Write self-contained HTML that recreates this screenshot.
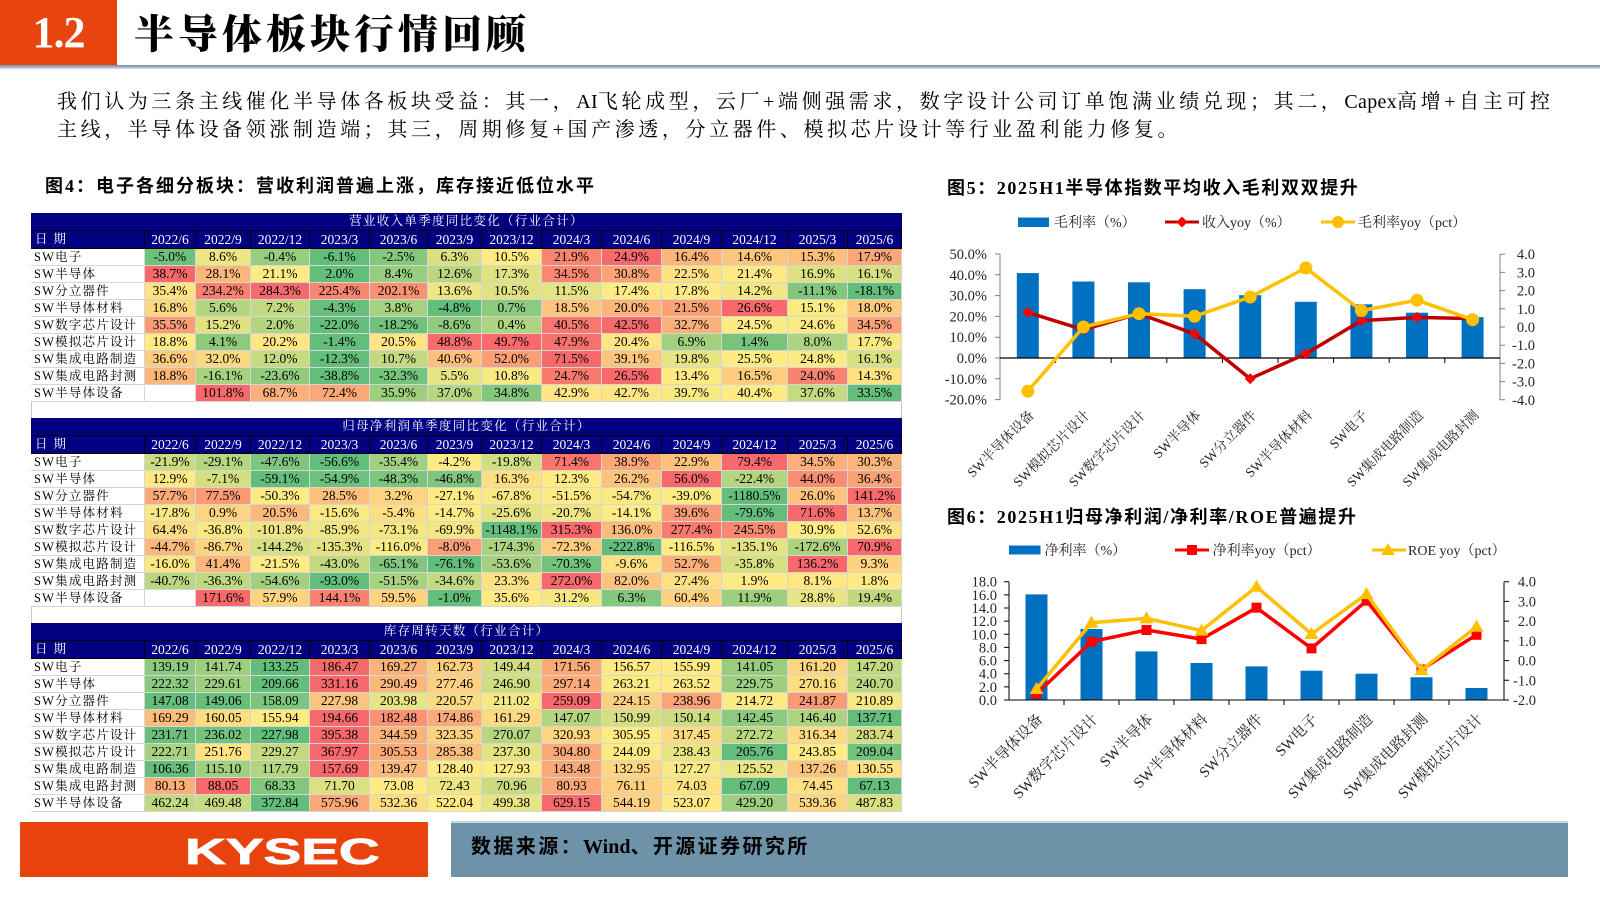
<!DOCTYPE html>
<html><head><meta charset="utf-8">
<style>
*{margin:0;padding:0;box-sizing:border-box}
html,body{width:1600px;height:900px;overflow:hidden;background:#fff}
body{position:relative;font-family:"Liberation Serif","Noto Serif CJK SC",serif;color:#000}
.abs{position:absolute;white-space:nowrap}
#numbox{left:0;top:0;width:117px;height:65px;background:#E8440F;color:#fff;font:bold 44px/65px "Liberation Serif",serif;text-align:center;letter-spacing:-1px}
#htitle{left:134px;top:14px;font-family:"Liberation Serif","Noto Serif CJK SC",serif;font-weight:900;font-size:40px;line-height:42px;letter-spacing:4px}
#hline{left:0;top:65px;width:1600px;height:4px;background:linear-gradient(#6f8ea5,#a9bccb 60%,#dfe6ec)}
.para{font-size:20px;line-height:28px;letter-spacing:3.6px;font-family:"Liberation Serif","Noto Serif CJK SC",serif}
.para .la{letter-spacing:0.3px}
#p1{left:57px;top:88px;width:1492px;text-align:justify;text-align-last:justify}
#p2{left:57px;top:116px}
.ftitle{font-family:"Liberation Serif","Noto Sans CJK SC",sans-serif;font-weight:bold;font-size:18px;line-height:22px;letter-spacing:2px}
#frame{left:31px;top:213px;width:871px;height:599px;border:1px solid #c8c8c8}
.blk{position:absolute;left:31px;width:871px;display:grid;grid-template-columns:114px 51px 55px 59px 60px 58px 54px 60px 60px 60px 60px 66px 60px 54px;grid-template-rows:18px 18px repeat(9,17px)}
.blk>div{border-right:1px solid #d6d6d6;border-bottom:1px solid #d6d6d6;text-align:center;font-size:13.5px;line-height:16px;white-space:nowrap;overflow:hidden;font-family:"Liberation Serif","Noto Serif CJK SC",serif;background:#fff}
.blk>div.t{grid-column:1/-1;background:#000080;color:#fff;font-size:12.5px;letter-spacing:1.3px;line-height:17px;border-bottom:1px solid #000;border-right:none}
.blk>div.h{background:#000080;color:#fff;border-right:1px solid #000;border-bottom:1px solid #000;line-height:17px}
.blk>div.hl{background:#000080;color:#fff;text-align:left;padding-left:4px;letter-spacing:6px;font-size:12.5px;border-right:1px solid #000;border-bottom:1px solid #000;line-height:17px}
.blk>div.l{text-align:left;padding-left:3px;font-size:12.5px;letter-spacing:1.2px}
#fl{left:20px;top:822px;width:408px;height:55px;background:#E8430F}
#kysec{left:185px;top:828.5px;color:#fff;font:bold 36px/46px "Liberation Sans",sans-serif;letter-spacing:0;transform:scaleX(1.57);transform-origin:0 0;-webkit-text-stroke:0.8px #fff}
#fr{left:451px;top:821px;width:1117px;height:56px;background:#6E92A8;border-top:2px solid #c9d6de}
#src{left:471px;top:835px;font-family:"Liberation Serif","Noto Sans CJK SC",sans-serif;font-weight:bold;font-size:20px;line-height:24px;letter-spacing:2.4px}
#src .la{letter-spacing:0}
svg text{font-family:"Liberation Serif","Noto Serif CJK SC",serif}
</style></head><body>
<div class="abs" id="numbox">1.2</div>
<div class="abs" id="htitle">半导体板块行情回顾</div>
<div class="abs" id="hline"></div>
<div class="abs para" id="p1">我们认为三条主线催化半导体各板块受益：其一，<span class="la">AI</span>飞轮成型，云厂+端侧强需求，数字设计公司订单饱满业绩兑现；其二，<span class="la">Capex</span>高增+自主可控</div>
<div class="abs para" id="p2">主线，半导体设备领涨制造端；其三，周期修复+国产渗透，分立器件、模拟芯片设计等行业盈利能力修复。</div>
<div class="abs ftitle" style="left:45px;top:175px">图4：电子各细分板块：营收利润普遍上涨，库存接近低位水平</div>
<div class="abs ftitle" style="left:947px;top:177px;letter-spacing:1.6px">图5：2025H1半导体指数平均收入毛利双双提升</div>
<div class="abs ftitle" style="left:947px;top:506px;letter-spacing:1.6px">图6：2025H1归母净利润/净利率/ROE普遍提升</div>

<div class="abs" id="frame"></div>

<div class="blk" style="top:213px">
<div class="t">营业收入单季度同比变化（行业合计）</div>
<div class="hl">日期</div><div class="h">2022/6</div><div class="h">2022/9</div><div class="h">2022/12</div><div class="h">2023/3</div><div class="h">2023/6</div><div class="h">2023/9</div><div class="h">2023/12</div><div class="h">2024/3</div><div class="h">2024/6</div><div class="h">2024/9</div><div class="h">2024/12</div><div class="h">2025/3</div><div class="h">2025/6</div>
<div class="l">SW电子</div><div class="v">-5.0%</div><div class="v">8.6%</div><div class="v">-0.4%</div><div class="v">-6.1%</div><div class="v">-2.5%</div><div class="v">6.3%</div><div class="v">10.5%</div><div class="v">21.9%</div><div class="v">24.9%</div><div class="v">16.4%</div><div class="v">14.6%</div><div class="v">15.3%</div><div class="v">17.9%</div>
<div class="l">SW半导体</div><div class="v">38.7%</div><div class="v">28.1%</div><div class="v">21.1%</div><div class="v">2.0%</div><div class="v">8.4%</div><div class="v">12.6%</div><div class="v">17.3%</div><div class="v">34.5%</div><div class="v">30.8%</div><div class="v">22.5%</div><div class="v">21.4%</div><div class="v">16.9%</div><div class="v">16.1%</div>
<div class="l">SW分立器件</div><div class="v">35.4%</div><div class="v">234.2%</div><div class="v">284.3%</div><div class="v">225.4%</div><div class="v">202.1%</div><div class="v">13.6%</div><div class="v">10.5%</div><div class="v">11.5%</div><div class="v">17.4%</div><div class="v">17.8%</div><div class="v">14.2%</div><div class="v">-11.1%</div><div class="v">-18.1%</div>
<div class="l">SW半导体材料</div><div class="v">16.8%</div><div class="v">5.6%</div><div class="v">7.2%</div><div class="v">-4.3%</div><div class="v">3.8%</div><div class="v">-4.8%</div><div class="v">0.7%</div><div class="v">18.5%</div><div class="v">20.0%</div><div class="v">21.5%</div><div class="v">26.6%</div><div class="v">15.1%</div><div class="v">18.0%</div>
<div class="l">SW数字芯片设计</div><div class="v">35.5%</div><div class="v">15.2%</div><div class="v">2.0%</div><div class="v">-22.0%</div><div class="v">-18.2%</div><div class="v">-8.6%</div><div class="v">0.4%</div><div class="v">40.5%</div><div class="v">42.5%</div><div class="v">32.7%</div><div class="v">24.5%</div><div class="v">24.6%</div><div class="v">34.5%</div>
<div class="l">SW模拟芯片设计</div><div class="v">18.8%</div><div class="v">4.1%</div><div class="v">20.2%</div><div class="v">-1.4%</div><div class="v">20.5%</div><div class="v">48.8%</div><div class="v">49.7%</div><div class="v">47.9%</div><div class="v">20.4%</div><div class="v">6.9%</div><div class="v">1.4%</div><div class="v">8.0%</div><div class="v">17.7%</div>
<div class="l">SW集成电路制造</div><div class="v">36.6%</div><div class="v">32.0%</div><div class="v">12.0%</div><div class="v">-12.3%</div><div class="v">10.7%</div><div class="v">40.6%</div><div class="v">52.0%</div><div class="v">71.5%</div><div class="v">39.1%</div><div class="v">19.8%</div><div class="v">25.5%</div><div class="v">24.8%</div><div class="v">16.1%</div>
<div class="l">SW集成电路封测</div><div class="v">18.8%</div><div class="v">-16.1%</div><div class="v">-23.6%</div><div class="v">-38.8%</div><div class="v">-32.3%</div><div class="v">5.5%</div><div class="v">10.8%</div><div class="v">24.7%</div><div class="v">26.5%</div><div class="v">13.4%</div><div class="v">16.5%</div><div class="v">24.0%</div><div class="v">14.3%</div>
<div class="l">SW半导体设备</div><div class="v"></div><div class="v">101.8%</div><div class="v">68.7%</div><div class="v">72.4%</div><div class="v">35.9%</div><div class="v">37.0%</div><div class="v">34.8%</div><div class="v">42.9%</div><div class="v">42.7%</div><div class="v">39.7%</div><div class="v">40.4%</div><div class="v">37.6%</div><div class="v">33.5%</div>
</div>

<div class="blk" style="top:418px">
<div class="t">归母净利润单季度同比变化（行业合计）</div>
<div class="hl">日期</div><div class="h">2022/6</div><div class="h">2022/9</div><div class="h">2022/12</div><div class="h">2023/3</div><div class="h">2023/6</div><div class="h">2023/9</div><div class="h">2023/12</div><div class="h">2024/3</div><div class="h">2024/6</div><div class="h">2024/9</div><div class="h">2024/12</div><div class="h">2025/3</div><div class="h">2025/6</div>
<div class="l">SW电子</div><div class="v">-21.9%</div><div class="v">-29.1%</div><div class="v">-47.6%</div><div class="v">-56.6%</div><div class="v">-35.4%</div><div class="v">-4.2%</div><div class="v">-19.8%</div><div class="v">71.4%</div><div class="v">38.9%</div><div class="v">22.9%</div><div class="v">79.4%</div><div class="v">34.5%</div><div class="v">30.3%</div>
<div class="l">SW半导体</div><div class="v">12.9%</div><div class="v">-7.1%</div><div class="v">-59.1%</div><div class="v">-54.9%</div><div class="v">-48.3%</div><div class="v">-46.8%</div><div class="v">16.3%</div><div class="v">12.3%</div><div class="v">26.2%</div><div class="v">56.0%</div><div class="v">-22.4%</div><div class="v">44.0%</div><div class="v">36.4%</div>
<div class="l">SW分立器件</div><div class="v">57.7%</div><div class="v">77.5%</div><div class="v">-50.3%</div><div class="v">28.5%</div><div class="v">3.2%</div><div class="v">-27.1%</div><div class="v">-67.8%</div><div class="v">-51.5%</div><div class="v">-54.7%</div><div class="v">-39.0%</div><div class="v">-1180.5%</div><div class="v">26.0%</div><div class="v">141.2%</div>
<div class="l">SW半导体材料</div><div class="v">-17.8%</div><div class="v">0.9%</div><div class="v">20.5%</div><div class="v">-15.6%</div><div class="v">-5.4%</div><div class="v">-14.7%</div><div class="v">-25.6%</div><div class="v">-20.7%</div><div class="v">-14.1%</div><div class="v">39.6%</div><div class="v">-79.6%</div><div class="v">71.6%</div><div class="v">13.7%</div>
<div class="l">SW数字芯片设计</div><div class="v">64.4%</div><div class="v">-36.8%</div><div class="v">-101.8%</div><div class="v">-85.9%</div><div class="v">-73.1%</div><div class="v">-69.9%</div><div class="v">-1148.1%</div><div class="v">315.3%</div><div class="v">136.0%</div><div class="v">277.4%</div><div class="v">245.5%</div><div class="v">30.9%</div><div class="v">52.6%</div>
<div class="l">SW模拟芯片设计</div><div class="v">-44.7%</div><div class="v">-86.7%</div><div class="v">-144.2%</div><div class="v">-135.3%</div><div class="v">-116.0%</div><div class="v">-8.0%</div><div class="v">-174.3%</div><div class="v">-72.3%</div><div class="v">-222.8%</div><div class="v">-116.5%</div><div class="v">-135.1%</div><div class="v">-172.6%</div><div class="v">70.9%</div>
<div class="l">SW集成电路制造</div><div class="v">-16.0%</div><div class="v">41.4%</div><div class="v">-21.5%</div><div class="v">-43.0%</div><div class="v">-65.1%</div><div class="v">-76.1%</div><div class="v">-53.6%</div><div class="v">-70.3%</div><div class="v">-9.6%</div><div class="v">52.7%</div><div class="v">-35.8%</div><div class="v">136.2%</div><div class="v">9.3%</div>
<div class="l">SW集成电路封测</div><div class="v">-40.7%</div><div class="v">-36.3%</div><div class="v">-54.6%</div><div class="v">-93.0%</div><div class="v">-51.5%</div><div class="v">-34.6%</div><div class="v">23.3%</div><div class="v">272.0%</div><div class="v">82.0%</div><div class="v">27.4%</div><div class="v">1.9%</div><div class="v">8.1%</div><div class="v">1.8%</div>
<div class="l">SW半导体设备</div><div class="v"></div><div class="v">171.6%</div><div class="v">57.9%</div><div class="v">144.1%</div><div class="v">59.5%</div><div class="v">-1.0%</div><div class="v">35.6%</div><div class="v">31.2%</div><div class="v">6.3%</div><div class="v">60.4%</div><div class="v">11.9%</div><div class="v">28.8%</div><div class="v">19.4%</div>
</div>

<div class="blk" style="top:623px">
<div class="t">库存周转天数（行业合计）</div>
<div class="hl">日期</div><div class="h">2022/6</div><div class="h">2022/9</div><div class="h">2022/12</div><div class="h">2023/3</div><div class="h">2023/6</div><div class="h">2023/9</div><div class="h">2023/12</div><div class="h">2024/3</div><div class="h">2024/6</div><div class="h">2024/9</div><div class="h">2024/12</div><div class="h">2025/3</div><div class="h">2025/6</div>
<div class="l">SW电子</div><div class="v">139.19</div><div class="v">141.74</div><div class="v">133.25</div><div class="v">186.47</div><div class="v">169.27</div><div class="v">162.73</div><div class="v">149.44</div><div class="v">171.56</div><div class="v">156.57</div><div class="v">155.99</div><div class="v">141.05</div><div class="v">161.20</div><div class="v">147.20</div>
<div class="l">SW半导体</div><div class="v">222.32</div><div class="v">229.61</div><div class="v">209.66</div><div class="v">331.16</div><div class="v">290.49</div><div class="v">277.46</div><div class="v">246.90</div><div class="v">297.14</div><div class="v">263.21</div><div class="v">263.52</div><div class="v">229.75</div><div class="v">270.16</div><div class="v">240.70</div>
<div class="l">SW分立器件</div><div class="v">147.08</div><div class="v">149.06</div><div class="v">158.09</div><div class="v">227.98</div><div class="v">203.98</div><div class="v">220.57</div><div class="v">211.02</div><div class="v">259.09</div><div class="v">224.15</div><div class="v">238.96</div><div class="v">214.72</div><div class="v">241.87</div><div class="v">210.89</div>
<div class="l">SW半导体材料</div><div class="v">169.29</div><div class="v">160.05</div><div class="v">155.94</div><div class="v">194.66</div><div class="v">182.48</div><div class="v">174.86</div><div class="v">161.29</div><div class="v">147.07</div><div class="v">150.99</div><div class="v">150.14</div><div class="v">142.45</div><div class="v">146.40</div><div class="v">137.71</div>
<div class="l">SW数字芯片设计</div><div class="v">231.71</div><div class="v">236.02</div><div class="v">227.98</div><div class="v">395.38</div><div class="v">344.59</div><div class="v">323.35</div><div class="v">270.07</div><div class="v">320.93</div><div class="v">305.95</div><div class="v">317.45</div><div class="v">272.72</div><div class="v">316.34</div><div class="v">283.74</div>
<div class="l">SW模拟芯片设计</div><div class="v">222.71</div><div class="v">251.76</div><div class="v">229.27</div><div class="v">367.97</div><div class="v">305.53</div><div class="v">285.38</div><div class="v">237.30</div><div class="v">304.80</div><div class="v">244.09</div><div class="v">238.43</div><div class="v">205.76</div><div class="v">243.85</div><div class="v">209.04</div>
<div class="l">SW集成电路制造</div><div class="v">106.36</div><div class="v">115.10</div><div class="v">117.79</div><div class="v">157.69</div><div class="v">139.47</div><div class="v">128.40</div><div class="v">127.93</div><div class="v">143.48</div><div class="v">132.95</div><div class="v">127.27</div><div class="v">125.52</div><div class="v">137.26</div><div class="v">130.55</div>
<div class="l">SW集成电路封测</div><div class="v">80.13</div><div class="v">88.05</div><div class="v">68.33</div><div class="v">71.70</div><div class="v">73.08</div><div class="v">72.43</div><div class="v">70.96</div><div class="v">80.93</div><div class="v">76.11</div><div class="v">74.03</div><div class="v">67.09</div><div class="v">74.45</div><div class="v">67.13</div>
<div class="l">SW半导体设备</div><div class="v">462.24</div><div class="v">469.48</div><div class="v">372.84</div><div class="v">575.96</div><div class="v">532.36</div><div class="v">522.04</div><div class="v">499.38</div><div class="v">629.15</div><div class="v">544.19</div><div class="v">523.07</div><div class="v">429.20</div><div class="v">539.36</div><div class="v">487.83</div>
</div>

<svg class="abs" style="left:0;top:0" width="1600" height="900" viewBox="0 0 1600 900">
<!-- Chart 5 legend -->
<rect x="1018" y="217.5" width="31" height="9.5" fill="#0070C0"/>
<text x="1054" y="227" font-size="14" fill="#262626">毛利率（%）</text>
<line x1="1165" y1="222" x2="1199" y2="222" stroke="#C00000" stroke-width="3"/>
<polygon points="1182,216.5 1187.5,222 1182,227.5 1176.5,222" fill="#FF0000"/>
<text x="1202" y="227" font-size="14" fill="#262626">收入yoy（%）</text>
<line x1="1321" y1="222" x2="1355" y2="222" stroke="#FFC000" stroke-width="3"/>
<circle cx="1338" cy="222" r="6" fill="#FFC000"/>
<text x="1358" y="227" font-size="14" fill="#262626">毛利率yoy（pct）</text>
<!-- Chart 5 bars -->
<g fill="#0070C0">
<rect x="1016.8" y="273.1" width="22" height="84.9"/>
<rect x="1072.4" y="281.5" width="22" height="76.5"/>
<rect x="1128" y="282.3" width="22" height="75.7"/>
<rect x="1183.6" y="289.2" width="22" height="68.8"/>
<rect x="1239.2" y="295.2" width="22" height="62.8"/>
<rect x="1294.8" y="301.8" width="22" height="56.2"/>
<rect x="1350.4" y="304.3" width="22" height="53.7"/>
<rect x="1406" y="312.7" width="22" height="45.3"/>
<rect x="1461.6" y="317.2" width="22" height="40.8"/>
</g>
<!-- Chart 5 axes -->
<g stroke="#808080" stroke-width="1">
<line x1="1000" y1="254" x2="1000" y2="400"/>
<line x1="1500" y1="254" x2="1500" y2="400"/>
<path d="M995 254H1000M995 274.8H1000M995 295.6H1000M995 316.4H1000M995 337.2H1000M995 358H1000M995 378.8H1000M995 399.6H1000"/>
<path d="M1500 254.2H1505M1500 272.4H1505M1500 290.6H1505M1500 308.8H1505M1500 327H1505M1500 345.2H1505M1500 363.4H1505M1500 381.6H1505M1500 399.8H1505"/>
</g>
<line x1="1000" y1="358" x2="1500" y2="358" stroke="#000" stroke-width="1.2"/>
<path d="M1055.6 358v5M1111.2 358v5M1166.8 358v5M1222.4 358v5M1278 358v5M1333.6 358v5M1389.2 358v5M1444.8 358v5" stroke="#000" stroke-width="1"/>
<g font-size="14.5" fill="#262626" text-anchor="end">
<text x="987" y="259">50.0%</text><text x="987" y="279.8">40.0%</text><text x="987" y="300.6">30.0%</text><text x="987" y="321.4">20.0%</text><text x="987" y="342.2">10.0%</text><text x="987" y="363">0.0%</text><text x="987" y="383.8">-10.0%</text><text x="987" y="404.6">-20.0%</text>
<text x="1535" y="259.2">4.0</text><text x="1535" y="277.4">3.0</text><text x="1535" y="295.6">2.0</text><text x="1535" y="313.8">1.0</text><text x="1535" y="332">0.0</text><text x="1535" y="350.2">-1.0</text><text x="1535" y="368.4">-2.0</text><text x="1535" y="386.6">-3.0</text><text x="1535" y="404.8">-4.0</text>
</g>
<!-- Chart 5 lines -->
<polyline points="1027.8,312.4 1083.4,329.7 1139,313.7 1194.6,333.9 1250.2,378.7 1305.8,353.8 1361.4,320.6 1417,317.4 1472.6,318.6" fill="none" stroke="#C00000" stroke-width="3.5" stroke-linejoin="round"/>
<g fill="#FF0000">
<polygon points="1027.8,306.9 1033.3,312.4 1027.8,317.9 1022.3,312.4"/>
<polygon points="1083.4,324.2 1088.9,329.7 1083.4,335.2 1077.9,329.7"/>
<polygon points="1139,308.2 1144.5,313.7 1139,319.2 1133.5,313.7"/>
<polygon points="1194.6,328.4 1200.1,333.9 1194.6,339.4 1189.1,333.9"/>
<polygon points="1250.2,373.2 1255.7,378.7 1250.2,384.2 1244.7,378.7"/>
<polygon points="1305.8,348.3 1311.3,353.8 1305.8,359.3 1300.3,353.8"/>
<polygon points="1361.4,315.1 1366.9,320.6 1361.4,326.1 1355.9,320.6"/>
<polygon points="1417,311.9 1422.5,317.4 1417,322.9 1411.5,317.4"/>
<polygon points="1472.6,313.1 1478.1,318.6 1472.6,324.1 1467.1,318.6"/>
</g>
<polyline points="1027.8,391.2 1083.4,327 1139,313.7 1194.6,316.3 1250.2,297 1305.8,268 1361.4,310.6 1417,300.2 1472.6,319.7" fill="none" stroke="#FFC000" stroke-width="3.5" stroke-linejoin="round"/>
<g fill="#FFC000">
<circle cx="1027.8" cy="391.2" r="6.5"/><circle cx="1083.4" cy="327" r="6.5"/><circle cx="1139" cy="313.7" r="6.5"/><circle cx="1194.6" cy="316.3" r="6.5"/><circle cx="1250.2" cy="297" r="6.5"/><circle cx="1305.8" cy="268" r="6.5"/><circle cx="1361.4" cy="310.6" r="6.5"/><circle cx="1417" cy="300.2" r="6.5"/><circle cx="1472.6" cy="319.7" r="6.5"/>
</g>
<!-- Chart 5 category labels -->
<g font-size="13.5" fill="#262626" text-anchor="end">
<text x="1034.8" y="416" transform="rotate(-45 1034.8 416)">SW半导体设备</text>
<text x="1090.4" y="416" transform="rotate(-45 1090.4 416)">SW模拟芯片设计</text>
<text x="1146" y="416" transform="rotate(-45 1146 416)">SW数字芯片设计</text>
<text x="1201.6" y="416" transform="rotate(-45 1201.6 416)">SW半导体</text>
<text x="1257.2" y="416" transform="rotate(-45 1257.2 416)">SW分立器件</text>
<text x="1312.8" y="416" transform="rotate(-45 1312.8 416)">SW半导体材料</text>
<text x="1368.4" y="416" transform="rotate(-45 1368.4 416)">SW电子</text>
<text x="1424" y="416" transform="rotate(-45 1424 416)">SW集成电路制造</text>
<text x="1479.6" y="416" transform="rotate(-45 1479.6 416)">SW集成电路封测</text>
</g>

<!-- Chart 6 legend -->
<rect x="1009" y="545.5" width="31.5" height="9" fill="#0070C0"/>
<text x="1044.5" y="555" font-size="14" fill="#262626">净利率（%）</text>
<line x1="1175" y1="550" x2="1209" y2="550" stroke="#FF0000" stroke-width="3"/>
<rect x="1187" y="545" width="10" height="10" fill="#FF0000"/>
<text x="1212.6" y="555" font-size="14" fill="#262626">净利率yoy（pct）</text>
<line x1="1372" y1="550" x2="1406" y2="550" stroke="#FFC000" stroke-width="3"/>
<polygon points="1388,543 1395,555 1381,555" fill="#FFC000"/>
<text x="1408" y="555" font-size="14" fill="#262626">ROE yoy（pct）</text>
<!-- Chart 6 bars -->
<g fill="#0070C0">
<rect x="1025.5" y="594.4" width="22" height="105.6"/>
<rect x="1080.5" y="629" width="22" height="71"/>
<rect x="1135.5" y="651.4" width="22" height="48.6"/>
<rect x="1190.5" y="663" width="22" height="37"/>
<rect x="1245.5" y="666.4" width="22" height="33.6"/>
<rect x="1300.5" y="670.7" width="22" height="29.3"/>
<rect x="1355.5" y="673.7" width="22" height="26.3"/>
<rect x="1410.5" y="677.3" width="22" height="22.7"/>
<rect x="1465.5" y="688" width="22" height="12"/>
</g>
<!-- Chart 6 axes -->
<g stroke="#000" stroke-width="1">
<line x1="1009" y1="581.7" x2="1009" y2="700"/>
<line x1="1504" y1="581.7" x2="1504" y2="700"/>
<line x1="1009" y1="700" x2="1504" y2="700"/>
<path d="M1004 581.7H1009M1004 594.9H1009M1004 608H1009M1004 621.1H1009M1004 634.3H1009M1004 647.4H1009M1004 660.6H1009M1004 673.7H1009M1004 686.9H1009M1004 700H1009"/>
<path d="M1504 581.7H1509M1504 601.4H1509M1504 621.1H1509M1504 640.9H1509M1504 660.6H1509M1504 680.3H1509M1504 700H1509"/>
<path d="M1064 700v5M1119 700v5M1174 700v5M1229 700v5M1284 700v5M1339 700v5M1394 700v5M1449 700v5"/>
</g>
<g font-size="14.5" fill="#262626" text-anchor="end">
<text x="997" y="586.7">18.0</text><text x="997" y="599.9">16.0</text><text x="997" y="613">14.0</text><text x="997" y="626.1">12.0</text><text x="997" y="639.3">10.0</text><text x="997" y="652.4">8.0</text><text x="997" y="665.6">6.0</text><text x="997" y="678.7">4.0</text><text x="997" y="691.9">2.0</text><text x="997" y="705">0.0</text>
<text x="1536" y="586.7">4.0</text><text x="1536" y="606.4">3.0</text><text x="1536" y="626.1">2.0</text><text x="1536" y="645.9">1.0</text><text x="1536" y="665.6">0.0</text><text x="1536" y="685.3">-1.0</text><text x="1536" y="705">-2.0</text>
</g>
<!-- Chart 6 lines -->
<polyline points="1036.5,693.9 1091.5,641.7 1146.5,630 1201.5,639.1 1256.5,607.7 1311.5,648.4 1366.5,600.7 1421.5,669.5 1476.5,634.8" fill="none" stroke="#FF0000" stroke-width="3.5" stroke-linejoin="round"/>
<g fill="#FF0000">
<rect x="1031.5" y="688.9" width="10" height="10"/><rect x="1086.5" y="636.7" width="10" height="10"/><rect x="1141.5" y="625" width="10" height="10"/><rect x="1196.5" y="634.1" width="10" height="10"/><rect x="1251.5" y="602.7" width="10" height="10"/><rect x="1306.5" y="643.4" width="10" height="10"/><rect x="1361.5" y="595.7" width="10" height="10"/><rect x="1416.5" y="664.5" width="10" height="10"/><rect x="1471.5" y="629.8" width="10" height="10"/>
</g>
<polyline points="1036.5,689 1091.5,622.7 1146.5,618.4 1201.5,630.6 1256.5,586.7 1311.5,634 1366.5,594.1 1421.5,670.1 1476.5,626.7" fill="none" stroke="#FFC000" stroke-width="3.5" stroke-linejoin="round"/>
<g fill="#FFC000">
<polygon points="1036.5,682 1043.5,694 1029.5,694"/>
<polygon points="1091.5,615.7 1098.5,627.7 1084.5,627.7"/>
<polygon points="1146.5,611.4 1153.5,623.4 1139.5,623.4"/>
<polygon points="1201.5,623.6 1208.5,635.6 1194.5,635.6"/>
<polygon points="1256.5,579.7 1263.5,591.7 1249.5,591.7"/>
<polygon points="1311.5,627 1318.5,639 1304.5,639"/>
<polygon points="1366.5,587.1 1373.5,599.1 1359.5,599.1"/>
<polygon points="1421.5,663.1 1428.5,675.1 1414.5,675.1"/>
<polygon points="1476.5,619.7 1483.5,631.7 1469.5,631.7"/>
</g>
<!-- Chart 6 category labels -->
<g font-size="15" fill="#262626" text-anchor="end">
<text x="1043.5" y="720" transform="rotate(-45 1043.5 720)">SW半导体设备</text>
<text x="1098.5" y="720" transform="rotate(-45 1098.5 720)">SW数字芯片设计</text>
<text x="1153.5" y="720" transform="rotate(-45 1153.5 720)">SW半导体</text>
<text x="1208.5" y="720" transform="rotate(-45 1208.5 720)">SW半导体材料</text>
<text x="1263.5" y="720" transform="rotate(-45 1263.5 720)">SW分立器件</text>
<text x="1318.5" y="720" transform="rotate(-45 1318.5 720)">SW电子</text>
<text x="1373.5" y="720" transform="rotate(-45 1373.5 720)">SW集成电路制造</text>
<text x="1428.5" y="720" transform="rotate(-45 1428.5 720)">SW集成电路封测</text>
<text x="1483.5" y="720" transform="rotate(-45 1483.5 720)">SW模拟芯片设计</text>
</g>
</svg>

<div class="abs" id="fl"></div>
<div class="abs" id="kysec">KYSEC</div>
<div class="abs" id="fr"></div>
<div class="abs" id="src">数据来源：<span class="la">Wind</span>、开源证券研究所</div>

<script>
(function(){
  var G=[99,190,123],Y=[255,235,132],R=[248,105,107];
  function mix(a,b,t){t=Math.max(0,Math.min(1,t));return 'rgb('+[0,1,2].map(function(i){return Math.round(a[i]+(b[i]-a[i])*t)}).join(',')+')';}
  document.querySelectorAll('.blk').forEach(function(b){
    var cells=Array.prototype.slice.call(b.children);
    for(var r=0;r<9;r++){
      var row=cells.slice(15+r*14+1,15+r*14+14);
      var vals=[];
      row.forEach(function(c){var s=c.textContent.trim();if(s!==''){vals.push(parseFloat(s));}});
      var s=vals.slice().sort(function(a,b){return a-b});
      var n=s.length,mn=s[0],mx=s[n-1],pos=(n-1)*0.5,lo=Math.floor(pos),hi=Math.ceil(pos);
      var md=s[lo]+(s[hi]-s[lo])*(pos-lo);
      row.forEach(function(c){
        var t=c.textContent.trim();if(t==='')return;
        var v=parseFloat(t),col;
        if(v<=md){col=mix(G,Y,md===mn?1:(v-mn)/(md-mn));}
        else{col=mix(Y,R,mx===md?0:(v-md)/(mx-md));}
        c.style.background=col;
      });
    }
  });
})();
</script>
</body></html>
